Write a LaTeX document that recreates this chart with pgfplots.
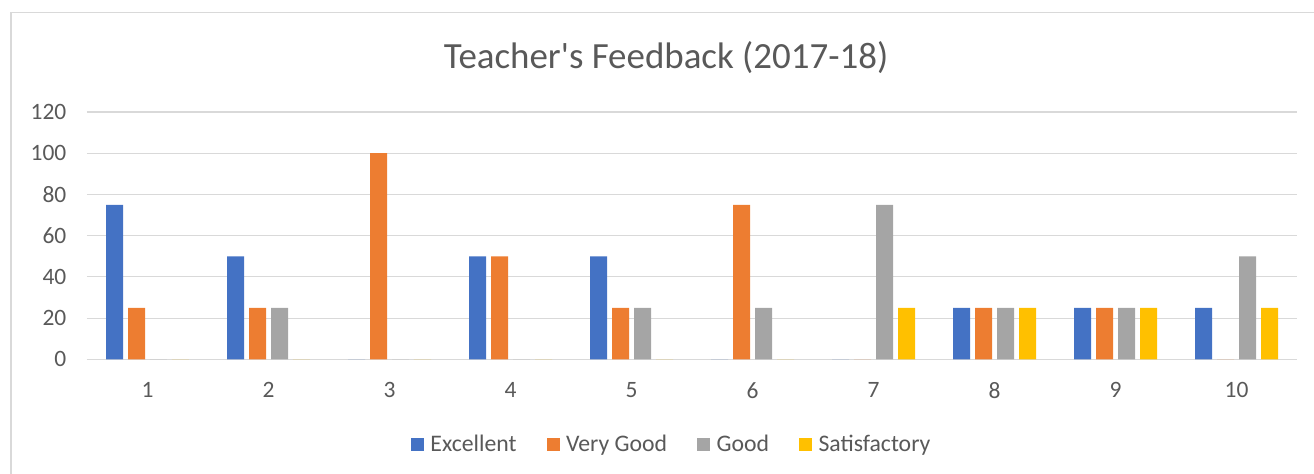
\documentclass[border=0pt]{standalone}
\usepackage{fontspec}
\setmainfont{Carlito}[Ligatures=TeXOff]
\usepackage{pgfplots}
\pgfplotsset{compat=1.18}
\definecolor{cE}{HTML}{4472C4}
\definecolor{cV}{HTML}{ED7D31}
\definecolor{cG}{HTML}{A5A5A5}
\definecolor{cS}{HTML}{FFC000}
\definecolor{gridc}{HTML}{D9D9D9}
\definecolor{txt}{HTML}{595959}
\begin{document}
\begin{tikzpicture}
\path[use as bounding box] (0,0) rectangle (985.5pt,-355.5pt);
\draw[gridc, line width=0.9pt] (8.25pt,-356pt) -- (8.25pt,-9.4pt) -- (986pt,-9.4pt);
\node[text=txt, font=\fontsize{27.7}{33}\selectfont] at (499.5pt,-43pt) {Teacher's Feedback (2017-18)};
\begin{axis}[
  at={(65.25pt,-269.5pt)}, anchor=south west,
  scale only axis, width=907.5pt, height=185.5pt,
  xmin=0.5, xmax=10.5, ymin=0, ymax=120,
  ybar, bar width=0.1405,
  xtick={1,...,10}, ytick={0,20,...,120},
  ymajorgrids, grid style={gridc, line width=0.9pt},
  axis line style={draw=none},
  major tick length=0pt,
  tick label style={text=txt, font=\fontsize{17.6}{20}\selectfont},
  /pgf/number format/assume math mode=true,
  xticklabel style={yshift=-14pt},
  yticklabel style={xshift=-12pt},
  legend columns=4,
  legend style={draw=none, at={(0.4835,-0.345)}, anchor=center,
    font=\fontsize{17.8}{20}\selectfont, text=txt,
    /tikz/every even column/.append style={column sep=20.5pt}},
  legend image code/.code={\fill[#1] (0pt,-4.9pt) rectangle (9.75pt,4.9pt); \path (12.6pt,0pt);},
]
\addplot[fill=cE, draw=none, bar shift=-0.2727] coordinates {(1,75) (2,50) (3,0) (4,50) (5,50) (6,0) (7,0) (8,25) (9,25) (10,25)};
\addplot[fill=cV, draw=none, bar shift=-0.0909] coordinates {(1,25) (2,25) (3,100) (4,50) (5,25) (6,75) (7,0) (8,25) (9,25) (10,0)};
\addplot[fill=cG, draw=none, bar shift=0.0909] coordinates {(1,0) (2,25) (3,0) (4,0) (5,25) (6,25) (7,75) (8,25) (9,25) (10,50)};
\addplot[fill=cS, draw=none, bar shift=0.2727] coordinates {(1,0) (2,0) (3,0) (4,0) (5,0) (6,0) (7,25) (8,25) (9,25) (10,25)};
\legend{Excellent, Very Good, Good, Satisfactory}
\end{axis}
\end{tikzpicture}
\end{document}
